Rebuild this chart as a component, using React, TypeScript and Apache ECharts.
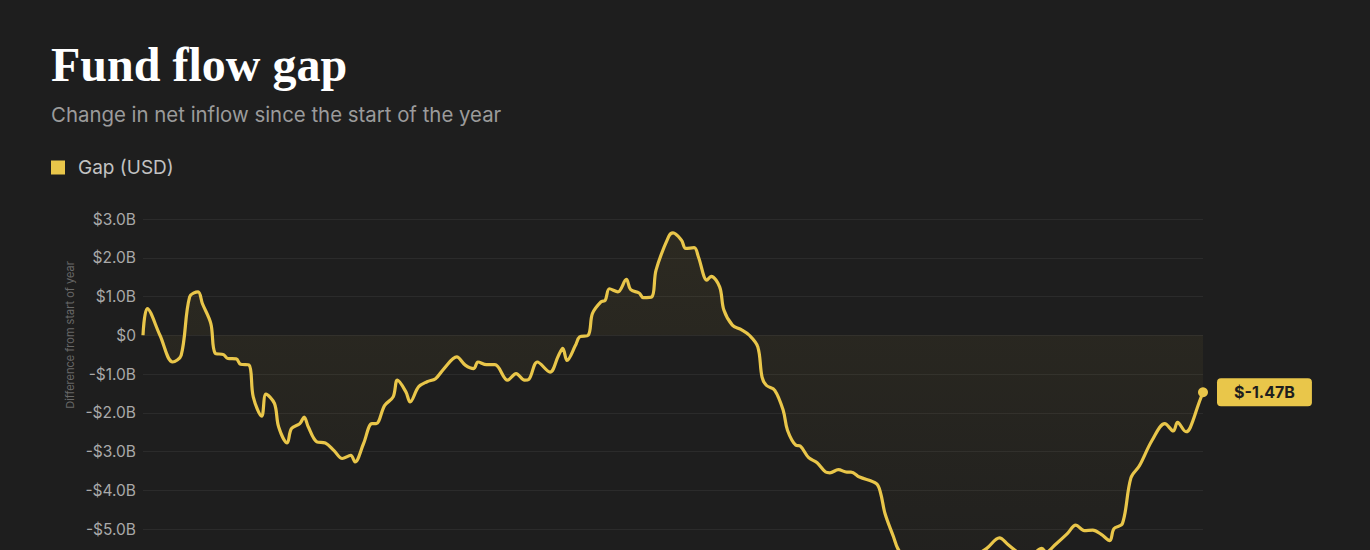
import { useEffect, useRef } from 'react'
import * as echarts from 'echarts'

// trading day index since the start of the year
const days = [
  0, 1, 4, 7, 9, 11, 13, 14, 16, 17, 19, 20, 22, 23, 25, 26, 28, 29, 31, 32,
  34, 35, 37, 38, 39, 41, 43, 45, 47, 49, 50, 52, 54, 55, 57, 59, 60, 62, 63, 65,
  67, 69, 71, 74, 76, 78, 79, 81, 83, 86, 88, 90, 91, 93, 96, 98, 99, 100, 102, 103,
  105, 106, 108, 109, 110, 112, 114, 115, 117, 118, 120, 121, 124, 125, 127, 128, 130, 131, 133, 134,
  136, 137, 139, 141, 143, 145, 146, 147, 149, 151, 152, 154, 155, 157, 159, 161, 162, 164, 166, 167,
  169, 173, 174, 175, 177, 178, 180, 183, 186, 190, 193, 196, 199, 202, 204, 207, 209, 212, 213, 215,
  218, 220, 222, 224, 226, 228, 229, 231, 233, 235, 238, 241, 243, 244, 246, 247, 249, 250
]

// gap in billions of USD
const gap = [
  0.0, 0.69, 0.0, -0.69, -0.52, 0.99, 1.12, 0.82, 0.3, -0.46, -0.5, -0.6, -0.61, -0.75, -0.77, -1.59, -2.09, -1.52, -1.76, -2.37,
  -2.78, -2.41, -2.28, -2.11, -2.37, -2.75, -2.78, -2.97, -3.18, -3.1, -3.27, -2.8, -2.28, -2.28, -1.81, -1.59, -1.16, -1.46, -1.72, -1.33,
  -1.2, -1.12, -0.86, -0.56, -0.77, -0.86, -0.69, -0.76, -0.76, -1.16, -0.99, -1.16, -1.14, -0.69, -0.95, -0.52, -0.34, -0.65, -0.26, -0.04,
  0.0, 0.56, 0.86, 0.9, 1.2, 1.12, 1.44, 1.18, 1.09, 0.97, 0.99, 1.68, 2.55, 2.64, 2.45, 2.24, 2.26, 2.02, 1.42, 1.52,
  1.25, 0.65, 0.26, 0.15, 0.0, -0.3, -1.08, -1.29, -1.42, -1.94, -2.45, -2.84, -2.86, -3.16, -3.29, -3.53, -3.55, -3.47, -3.53, -3.53,
  -3.66, -3.83, -4.09, -4.6, -5.2, -5.5, -5.8, -6.0, -6.1, -6.0, -5.85, -5.7, -5.5, -5.23, -5.4, -5.65, -5.7, -5.5, -5.6, -5.42,
  -5.12, -4.9, -5.04, -5.03, -5.14, -5.3, -4.99, -4.86, -3.68, -3.37, -2.71, -2.28, -2.47, -2.25, -2.49, -2.38, -1.76, -1.47
]

// y axis range in billions, one tick per billion; labels below the visible area are left out
const yMax = 3
const yMin = -7
const yLowestLabel = -5

const YELLOW = '#e9c64a'
const BG = '#1e1e1e'

function formatTick(v: number) {
  if (v < yLowestLabel) return ''
  if (v === 0) return '$0'
  return (v < 0 ? '-$' : '$') + Math.abs(v).toFixed(1) + 'B'
}

export default function App() {
  const ref = useRef<HTMLDivElement>(null)

  useEffect(() => {
    document.body.style.margin = '0'
    document.body.style.overflow = 'hidden'
    if (!ref.current) return
    const chart = echarts.init(ref.current, null, { renderer: 'svg' })
    const last = days.length - 1

    chart.setOption({
      animation: false,
      backgroundColor: BG,
      textStyle: { fontFamily: 'Inter, sans-serif' },
      graphic: [
        {
          type: 'text',
          left: 51,
          top: 40,
          style: {
            text: 'Fund flow gap',
            fill: '#ffffff',
            font: 'bold 48px "Liberation Serif", serif'
          }
        },
        {
          type: 'text',
          left: 51,
          top: 104,
          style: {
            text: 'Change in net inflow since the start of the year',
            fill: '#9b9b9b',
            font: '20.4px Inter, sans-serif'
          }
        },
        {
          type: 'text',
          x: 70,
          y: 335,
          rotation: Math.PI / 2,
          style: {
            text: 'Difference from start of year',
            fill: '#686868',
            font: '11px Inter, sans-serif',
            align: 'center',
            verticalAlign: 'middle'
          }
        }
      ],
      legend: {
        left: 51,
        top: 158,
        padding: 0,
        icon: 'rect',
        itemWidth: 14,
        itemHeight: 14,
        data: ['Gap (USD)'],
        textStyle: { color: '#c2c2c2', fontSize: 19, padding: [0, 0, 0, 8] }
      },
      grid: {
        left: 143,
        top: 219,
        width: 1060,
        height: 38.75 * (yMax - yMin),
        outerBoundsMode: 'none'
      },
      xAxis: {
        type: 'value',
        min: 0,
        max: 250,
        show: false
      },
      yAxis: {
        type: 'value',
        min: yMin,
        max: yMax,
        interval: 1,
        axisLine: { show: false },
        axisTick: { show: false },
        axisLabel: {
          color: '#a9a9a9',
          fontSize: 15.5,
          margin: 7,
          formatter: formatTick
        },
        splitLine: { lineStyle: { color: '#2b2b2b', width: 1 } }
      },
      series: [
        {
          name: 'Gap (USD)',
          type: 'line',
          data: days.map((d, i) => [d, gap[i]]),
          smooth: 0.35,
          symbol: 'circle',
          symbolSize: (_v: unknown, p: { dataIndex: number }) => (p.dataIndex === last ? 10 : 0),
          showSymbol: true,
          itemStyle: { color: YELLOW },
          lineStyle: { color: YELLOW, width: 3.2 },
          areaStyle: {
            origin: 0,
            color: new echarts.graphic.LinearGradient(0, 0, 0, 1, [
              { offset: 0, color: 'rgba(233,198,74,0.10)' },
              { offset: 1, color: 'rgba(233,198,74,0.02)' }
            ])
          },
          endLabel: {
            show: true,
            distance: 14,
            formatter: (p: { value: number[] }) => '$' + p.value[1].toFixed(2) + 'B',
            backgroundColor: YELLOW,
            borderRadius: 4,
            padding: [6, 17, 6, 17],
            color: '#1e1e1e',
            fontWeight: 'bold',
            fontSize: 16,
            fontFamily: 'Inter, sans-serif'
          }
        }
      ]
    })

    return () => chart.dispose()
  }, [])

  return <div ref={ref} style={{ width: 1370, height: 550, background: BG }} />
}
